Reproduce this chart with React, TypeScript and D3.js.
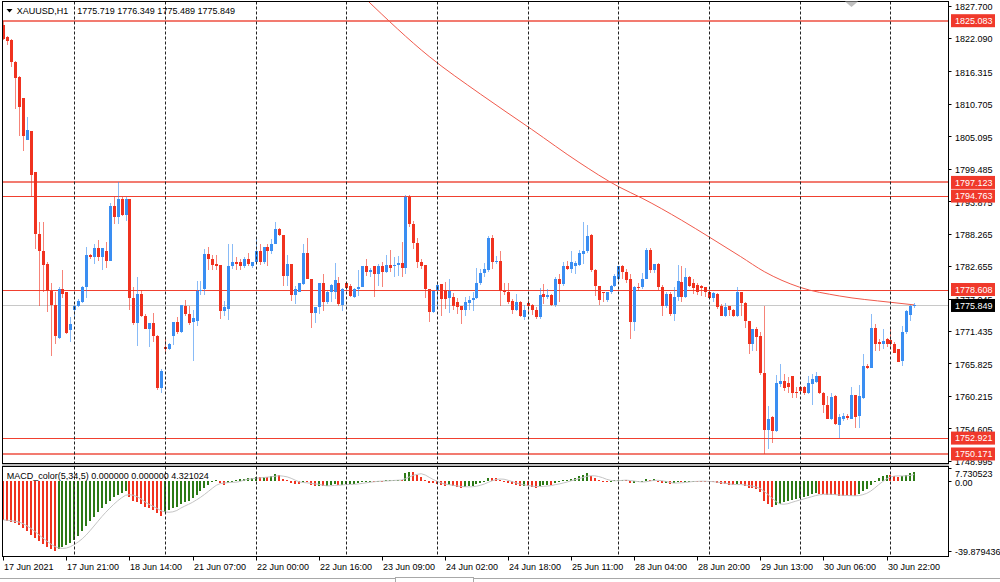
import React from 'react';
import * as d3 from 'd3';

// ---------- DATA ----------
const opens = [
  1824.4,1822.3,1821.7,1818.0,1815.3,1811.7,1804.4,1806.0,1798.9,1788.2,
  1785.2,1783.0,1778.4,1775.9,1770.3,1778.7,1778.1,1771.6,1775.1,1775.8,
  1776.5,1779.0,1784.5,1784.3,1785.7,1784.3,1785.2,1783.6,1793.1,1791.1,
  1794.3,1791.5,1794.3,1777.2,1772.8,1777.8,1774.1,1771.8,1772.9,1770.6,
  1761.5,1768.6,1768.3,1770.6,1773.0,1771.2,1775.8,1774.4,1773.0,1773.2,
  1778.3,1778.7,1784.8,1783.9,1783.0,1782.8,1774.9,1775.3,1782.6,1783.4,
  1783.3,1782.6,1783.9,1782.6,1783.3,1785.2,1783.4,1785.9,1785.2,1786.5,
  1789.0,1788.0,1780.9,1783.0,1777.7,1778.2,1779.6,1784.9,1780.5,1774.6,
  1775.6,1779.7,1776.5,1778.1,1778.2,1779.8,1775.9,1779.7,1779.3,1777.4,
  1778.7,1779.0,1782.6,1781.7,1782.6,1781.3,1782.6,1781.6,1782.9,1782.6,
  1782.9,1783.2,1782.4,1794.6,1789.9,1786.7,1783.3,1782.8,1778.7,1774.8,
  1778.6,1779.5,1778.6,1777.1,1777.4,1776.5,1775.8,1775.1,1776.3,1776.8,
  1777.1,1779.7,1781.4,1782.0,1787.6,1783.3,1783.5,1778.4,1778.2,1776.7,
  1775.1,1776.5,1773.8,1776.3,1775.9,1775.1,1773.8,1777.8,1777.4,1777.6,
  1775.9,1780.5,1779.5,1782.6,1782.2,1782.6,1782.9,1784.8,1785.3,1788.0,
  1782.0,1779.2,1778.2,1776.8,1778.1,1779.2,1780.4,1782.6,1781.7,1780.5,
  1773.0,1779.0,1779.0,1780.5,1785.5,1782.0,1783.0,1779.1,1775.7,1777.8,
  1774.4,1777.4,1779.9,1777.4,1780.7,1779.7,1779.4,1779.3,1779.1,1778.2,
  1777.2,1777.8,1775.7,1774.1,1775.7,1775.0,1774.1,1778.1,1776.3,1773.2,
  1769.2,1771.8,1770.6,1764.1,1754.3,1756.5,1754.2,1762.2,1762.8,1762.4,
  1763.7,1760.9,1761.8,1761.7,1760.8,1762.2,1762.6,1763.6,1760.8,1758.6,
  1756.3,1760.2,1755.2,1756.3,1756.8,1756.3,1760.3,1756.7,1759.9,1765.3,
  1765.1,1772.0,1769.5,1769.2,1770.1,1769.9,1769.2,1768.3,1766.3,1771.2,
  1774.2,1775.719,
];
const highs = [
  1825.0,1822.5,1821.9,1818.2,1815.5,1811.7,1808.4,1806.0,1798.9,1790.2,
  1790.3,1783.4,1779.8,1778.1,1779.1,1782.0,1778.1,1773.8,1775.9,1777.0,
  1779.3,1785.9,1784.8,1786.4,1787.1,1785.7,1786.8,1793.6,1794.6,1797.2,
  1794.6,1794.6,1794.3,1779.0,1780.7,1778.6,1774.4,1772.9,1774.5,1770.7,
  1764.8,1770.0,1769.3,1773.0,1773.8,1775.9,1776.8,1775.8,1775.1,1780.1,
  1780.0,1785.6,1785.9,1784.5,1784.5,1782.8,1776.7,1786.5,1786.5,1784.2,
  1783.9,1784.3,1785.0,1783.4,1787.5,1786.5,1785.9,1786.5,1787.3,1790.2,
  1789.2,1788.0,1784.6,1783.0,1779.3,1779.7,1786.5,1787.5,1780.5,1775.6,
  1779.8,1781.3,1778.4,1779.6,1783.2,1780.7,1778.8,1779.7,1779.6,1778.9,
  1782.0,1782.6,1783.9,1782.4,1782.6,1783.0,1783.3,1784.5,1785.5,1784.2,
  1784.4,1786.9,1794.9,1794.9,1790.5,1787.5,1783.9,1782.8,1778.7,1778.4,
  1779.5,1779.5,1779.9,1780.4,1778.0,1777.2,1775.8,1777.4,1777.5,1778.1,
  1782.4,1782.2,1783.2,1787.8,1788.0,1784.4,1785.3,1779.7,1779.8,1777.0,
  1777.8,1776.7,1775.9,1777.2,1776.1,1775.5,1778.8,1779.5,1778.7,1777.8,
  1780.7,1781.3,1783.3,1783.6,1785.2,1783.6,1785.5,1790.3,1789.7,1788.2,
  1782.1,1779.2,1778.2,1778.2,1779.4,1781.3,1782.6,1782.9,1782.2,1781.3,
  1779.2,1779.8,1781.5,1785.7,1785.7,1783.0,1783.2,1779.4,1778.2,1778.1,
  1779.1,1782.8,1782.6,1782.3,1781.0,1780.4,1779.7,1779.4,1779.1,1778.4,
  1778.1,1778.0,1776.1,1776.3,1775.8,1775.2,1779.0,1778.1,1776.5,1773.2,
  1771.8,1772.2,1771.2,1775.8,1758.5,1756.7,1763.8,1765.7,1764.0,1763.4,
  1763.7,1761.7,1762.0,1762.0,1763.7,1764.0,1764.4,1763.7,1760.9,1760.2,
  1760.8,1760.3,1757.0,1757.2,1757.1,1761.7,1760.4,1762.1,1767.4,1765.8,
  1774.4,1772.6,1770.1,1771.8,1770.3,1771.8,1769.5,1768.3,1772.3,1775.1,
  1776.0,1776.349,
];
const lows = [
  1821.7,1820.9,1817.1,1809.9,1805.2,1802.6,1804.4,1794.6,1785.6,1775.8,
  1778.1,1774.8,1767.1,1769.2,1770.0,1777.2,1770.9,1769.5,1773.5,1775.5,
  1776.3,1777.1,1783.9,1783.0,1783.6,1782.0,1782.4,1783.6,1789.9,1789.9,
  1791.4,1790.5,1775.1,1772.4,1768.9,1773.8,1771.8,1768.6,1769.5,1761.3,
  1760.8,1767.4,1768.2,1769.0,1770.9,1771.1,1774.1,1772.5,1766.3,1772.3,
  1777.6,1777.6,1781.9,1781.9,1781.9,1773.5,1774.1,1773.4,1782.1,1781.9,
  1781.9,1782.4,1782.7,1782.4,1783.3,1782.9,1783.0,1782.7,1784.8,1786.5,
  1787.8,1779.3,1779.3,1776.7,1776.1,1778.1,1779.4,1780.4,1772.0,1772.9,
  1774.4,1774.9,1776.1,1776.4,1776.9,1775.8,1774.9,1778.8,1777.4,1777.1,
  1777.5,1779.0,1781.0,1780.7,1777.4,1779.3,1779.0,1781.5,1781.6,1780.7,
  1780.9,1780.7,1781.3,1789.5,1785.6,1782.3,1782.2,1777.2,1773.0,1774.6,
  1775.5,1774.1,1775.2,1774.5,1775.1,1774.4,1772.6,1774.1,1775.1,1774.9,
  1777.0,1779.4,1780.7,1781.7,1782.2,1783.0,1775.7,1777.6,1776.1,1774.4,
  1774.9,1773.8,1773.4,1774.6,1774.2,1773.5,1773.5,1776.1,1776.9,1775.8,
  1775.5,1776.5,1779.2,1781.9,1781.5,1781.3,1782.6,1783.0,1784.9,1781.6,
  1777.5,1775.9,1776.5,1776.5,1777.8,1779.0,1780.1,1780.4,1779.8,1770.1,
  1771.5,1778.4,1778.7,1780.4,1781.5,1781.5,1778.5,1774.0,1775.4,1774.1,
  1773.2,1776.7,1776.5,1777.2,1779.0,1777.8,1777.6,1777.5,1777.4,1777.2,
  1776.5,1775.2,1774.0,1773.8,1774.1,1773.8,1773.8,1774.0,1772.0,1767.4,
  1768.0,1768.0,1763.8,1750.1,1751.0,1752.1,1754.0,1761.7,1761.1,1760.8,
  1759.8,1759.9,1760.6,1760.3,1760.5,1758.6,1762.4,1760.5,1757.3,1756.2,
  1756.0,1755.2,1753.0,1755.9,1756.1,1756.2,1754.7,1754.6,1759.7,1764.9,
  1765.0,1768.0,1768.0,1768.3,1768.6,1768.3,1767.6,1766.0,1765.3,1771.0,
  1773.2,1775.489,
];
const closes = [
  1821.9,1821.5,1817.9,1815.1,1810.2,1805.2,1806.1,1798.4,1788.2,1785.2,
  1782.8,1778.4,1775.9,1770.6,1778.7,1777.8,1771.1,1772.6,1775.8,1776.7,
  1779.0,1784.5,1784.2,1785.7,1784.3,1785.7,1783.6,1793.1,1791.1,1794.3,
  1791.5,1794.3,1777.2,1772.8,1777.8,1774.1,1771.8,1772.9,1770.6,1761.5,
  1764.5,1768.4,1769.2,1773.0,1771.2,1775.9,1774.4,1772.8,1773.6,1778.4,
  1778.6,1784.8,1783.9,1782.8,1782.6,1774.9,1775.5,1782.6,1783.3,1783.0,
  1782.7,1783.9,1783.0,1783.3,1785.2,1783.4,1785.9,1785.2,1786.5,1789.0,
  1788.0,1780.9,1783.0,1777.7,1778.7,1779.7,1784.9,1780.5,1774.5,1775.6,
  1779.8,1776.5,1778.1,1779.4,1780.3,1776.1,1778.7,1778.8,1777.5,1778.7,
  1779.1,1782.6,1781.6,1782.0,1781.3,1782.7,1781.6,1782.9,1782.4,1782.9,
  1783.2,1782.4,1794.6,1789.9,1786.7,1783.3,1782.6,1778.7,1774.8,1778.4,
  1779.4,1777.0,1777.0,1778.4,1775.7,1775.5,1775.1,1776.4,1776.8,1777.2,
  1779.7,1781.5,1782.2,1787.6,1783.3,1783.5,1778.4,1778.1,1776.5,1775.1,
  1776.5,1774.0,1775.1,1775.8,1775.1,1773.8,1777.6,1777.4,1777.6,1775.9,
  1780.5,1779.5,1782.6,1782.2,1783.3,1783.2,1784.9,1785.3,1787.9,1781.9,
  1779.2,1776.8,1778.0,1778.1,1779.3,1781.0,1782.6,1781.7,1780.3,1773.0,
  1779.0,1778.8,1780.5,1785.5,1782.0,1783.0,1779.1,1775.7,1777.8,1774.4,
  1777.4,1780.1,1777.4,1780.7,1779.3,1778.8,1778.1,1778.8,1778.1,1777.2,
  1778.0,1775.5,1774.1,1775.5,1775.0,1774.1,1778.1,1776.3,1773.2,1769.2,
  1771.8,1770.4,1764.1,1754.3,1756.3,1754.2,1762.4,1762.8,1761.5,1761.7,
  1760.8,1760.7,1761.1,1760.8,1762.4,1763.2,1763.6,1760.8,1758.6,1756.3,
  1760.0,1755.3,1756.6,1756.8,1756.4,1760.3,1756.6,1760.2,1765.4,1765.1,
  1772.0,1769.2,1769.2,1769.7,1769.2,1769.2,1767.7,1766.1,1771.2,1774.9,
  1775.8,1775.849,
];
const macdValues = [
  -22.2,-22.6,-23.2,-24.0,-25.1,-26.8,-28.8,-30.7,-32.6,-34.5,
  -36.0,-37.6,-39.0,-39.88,-38.9,-37.6,-36.4,-35.2,-33.7,-31.4,
  -28.8,-25.5,-22.6,-20.3,-17.8,-15.3,-13.0,-11.1,-9.2,-7.7,
  -6.5,-5.8,-9.2,-11.1,-12.1,-13.0,-14.6,-15.5,-16.5,-18.4,
  -19.8,-17.8,-16.5,-15.3,-14.6,-13.0,-12.1,-11.1,-9.6,-7.7,
  -5.8,-3.9,-2.2,-0.6,0.8,-0.9,-2.2,-1.0,0.4,0.9,
  1.2,1.5,1.6,1.9,2.4,2.2,2.7,2.6,3.1,3.9,
  3.6,1.5,0.5,-0.9,-1.3,-1.5,-0.3,-0.5,-2.3,-3.0,
  -2.5,-2.8,-2.6,-2.2,-1.7,-2.1,-2.0,-1.7,-1.6,-1.4,
  -1.1,-0.3,-0.1,0.1,-0.2,0.3,0.2,0.5,0.6,0.7,
  0.9,0.8,4.6,5.6,5.1,3.8,2.6,1.0,-1.0,-1.2,
  -1.4,-2.0,-2.6,-2.4,-3.0,-3.3,-3.6,-3.3,-3.0,-2.6,
  -1.8,-0.8,0.2,2.0,1.9,1.8,0.5,-0.3,-1.0,-1.8,
  -2.0,-2.7,-2.6,-2.9,-3.3,-3.7,-2.6,-2.2,-1.9,-2.1,
  -0.9,-0.6,0.5,0.9,1.5,2.0,2.8,3.4,4.5,3.1,
  1.9,0.6,0.2,-0.1,0.1,0.5,1.0,1.0,0.7,-1.2,
  -0.8,-0.6,-0.2,1.2,1.0,1.1,-0.4,-1.2,-1.0,-1.4,
  -1.1,-0.3,-0.6,0.0,0.1,0.1,0.0,0.0,-0.1,-0.5,
  -0.6,-1.1,-1.7,-1.8,-2.0,-2.4,-1.6,-1.8,-2.6,-3.9,
  -4.0,-4.5,-6.0,-11.1,-13.0,-14.6,-13.6,-12.8,-12.0,-11.4,
  -10.8,-10.2,-9.6,-8.9,-8.2,-7.6,-7.0,-7.2,-7.5,-7.8,
  -7.9,-8.1,-8.2,-8.3,-8.35,-8.4,-8.45,-7.6,-5.8,-4.4,
  -2.0,0.2,2.0,3.0,3.6,3.4,3.0,2.4,3.0,3.8,
  4.5,5.6,
];
const maBars = [92, 108, 121, 134, 146, 156, 162, 172, 179, 187, 193, 202, 212, 225, 231];
const maValues = [1828.8, 1818.9, 1812.4, 1806.3, 1800.6, 1796.4, 1794.4, 1790.6, 1787.7, 1784.3, 1781.7, 1779.0, 1777.5, 1776.4, 1775.95];

const priceTicks = [1827.700,1822.090,1816.315,1810.705,1805.095,1799.485,1793.875,1788.265,1782.655,1777.045,1771.435,1765.825,1760.215,1754.605,1748.995];
const levelValues = [1825.083, 1797.123, 1794.763, 1778.608, 1752.921, 1750.171];
const levelSoft = [true, true, false, false, false, true];
const lastPrice = 1775.849;
const separatorBars = [18, 41, 64, 87, 110, 133, 156, 179, 202, 225];
const timeLabelBars = [0,16,32,48,64,80,96,112,128,144,160,176,192,208,224];
const timeLabels = ['17 Jun 2021','17 Jun 21:00','18 Jun 14:00','21 Jun 07:00','22 Jun 00:00','22 Jun 16:00','23 Jun 09:00','24 Jun 02:00','24 Jun 18:00','25 Jun 11:00','28 Jun 04:00','28 Jun 20:00','29 Jun 13:00','30 Jun 06:00','30 Jun 22:00'];
const macdTicks = [7.730523, 0, -39.879436];
const macdTickLabels = ['7.730523', '0.00', '-39.879436'];
const titleText = 'XAUUSD,H1';
const titleValues = '1775.719 1776.349 1775.489 1775.849';
const macdTitle = 'MACD_color(5,34,5) 0.000000 0.000000 4.321024';

// ---------- STYLE ----------
const BLUE = '#3a8ef2';
const RED = '#f0321f';
const GREEN = '#2c7a16';
const FONT = '"Liberation Sans", Arial, sans-serif';

const PL = 2.5, PR = 948.5, MT = 1.5, MB = 463.5, ST = 466.5, SB = 556.5;

export default function App() {
  const n = closes.length;
  const x = d3.scaleLinear().domain([0, n - 1]).range([3.3, 914.1]);
  const y = d3.scaleLinear().domain([1748.995, 1827.7]).range([460.8, 5.56]);
  const ym = d3.scaleLinear().domain([-39.879436, 7.730523]).range([550.7, 467.8]);
  const px = (i: number) => Math.round(x(i));

  const maLine = d3.line<number>()
    .x((_, k) => x(maBars[k]))
    .y((v) => y(v))
    .curve(d3.curveMonotoneX)(maValues) || '';

  const signal = macdValues.map((_, i) => d3.mean(macdValues.slice(Math.max(0, i - 4), i + 1)) as number);
  const signalPath = d3.line<number>().x((_, i) => x(i)).y((v) => ym(v)).curve(d3.curveLinear)(signal) || '';

  const macdColors: string[] = [];
  macdValues.forEach((v, i) => {
    if (i === 0) macdColors.push(RED);
    else if (v > macdValues[i - 1]) macdColors.push(GREEN);
    else if (v < macdValues[i - 1]) macdColors.push(RED);
    else macdColors.push(macdColors[i - 1]);
  });

  const z = ym(0);

  return (
    <svg width={1000} height={582} style={{ position: 'absolute', left: 0, top: 0, background: '#fff' }} fontFamily={FONT}>
      <defs>
        <clipPath id="mainClip"><rect x={PL} y={MT} width={PR - PL} height={MB - MT} /></clipPath>
        <clipPath id="subClip"><rect x={PL} y={ST} width={PR - PL} height={SB - ST} /></clipPath>
      </defs>
      <rect x={0} y={0} width={1000} height={582} fill="#fff" />

      {/* main panel content */}
      <g clipPath="url(#mainClip)">
        {/* current price line */}
        <line x1={PL} x2={PR} y1={Math.round(y(lastPrice)) + 0.5} y2={Math.round(y(lastPrice)) + 0.5} stroke="#c8c8c8" strokeWidth={1} />
        {/* level lines */}
        {levelValues.map((v, k) => (
          <line key={k} x1={PL} x2={PR}
            y1={levelSoft[k] ? Math.round(y(v)) : Math.round(y(v)) + 0.5}
            y2={levelSoft[k] ? Math.round(y(v)) : Math.round(y(v)) + 0.5}
            stroke={levelSoft[k] ? '#f27b70' : '#f0402f'} strokeWidth={levelSoft[k] ? 2 : 1} />
        ))}
        {/* moving average */}
        <path d={maLine} fill="none" stroke="#f05a4c" strokeWidth={1} />
        {/* candles */}
        {opens.map((o, i) => {
          const c = closes[i];
          const up = c >= o;
          const col = up ? BLUE : RED;
          const cx = px(i);
          const yt = y(Math.max(o, c));
          const yb = y(Math.min(o, c));
          return (
            <g key={i} shapeRendering="crispEdges">
              <rect x={cx} y={y(highs[i])} width={1} height={Math.max(1, y(lows[i]) - y(highs[i]))} fill={col} fillOpacity={0.6} />
              <rect x={cx - 1} y={Math.round(yt)} width={3} height={Math.max(1, Math.round(yb) - Math.round(yt))} fill={col} />
            </g>
          );
        })}
      </g>

      {/* MACD panel content */}
      <g clipPath="url(#subClip)">
        {macdValues.map((v, i) => {
          const yv = ym(v);
          const top = Math.min(z, yv);
          const h = Math.max(1, Math.abs(yv - z));
          return <rect key={i} x={px(i) - 1} y={top} width={2} height={h} fill={macdColors[i]} shapeRendering="crispEdges" />;
        })}
        <path d={signalPath} fill="none" stroke="#c4c4c4" strokeWidth={1} />
      </g>

      {/* separators */}
      {separatorBars.map((b) => (
        <line key={b} x1={px(b) + 0.5} x2={px(b) + 0.5} y1={MT} y2={SB} stroke="#222" strokeWidth={1} strokeDasharray="3,2" />
      ))}

      {/* frames */}
      <rect x={PL} y={MT} width={PR - PL} height={MB - MT} fill="none" stroke="#000" strokeWidth={1} />
      <rect x={PL - 0.5} y={MB + 0.5} width={PR - PL + 1} height={ST - MB - 1} fill="#bdbdbd" />
      <rect x={PL} y={ST} width={PR - PL} height={SB - ST} fill="none" stroke="#000" strokeWidth={1} />

      {/* title */}
      <path d="M6.5,9 L12.5,9 L9.5,12.5 Z" fill="#000" />
      <text x={16.7} y={13.7} fontSize={9} fill="#000">{titleText}</text>
      <text x={77.3} y={13.7} fontSize={9} fill="#000">{titleValues}</text>
      <path d="M845,1.5 L858,1.5 L851.5,7 Z" fill="#c0c0c0" />
      <text x={6.7} y={479} fontSize={9} fill="#000">{macdTitle}</text>

      {/* price axis */}
      {priceTicks.map((t) => (
        <g key={t}>
          <line x1={PR} x2={PR + 3} y1={Math.round(y(t)) + 0.5} y2={Math.round(y(t)) + 0.5} stroke="#000" />
          <text x={955} y={y(t) + 4.3} fontSize={9} fill="#000">{t.toFixed(3)}</text>
        </g>
      ))}
      {levelValues.map((v, k) => (
        <g key={k}>
          <rect x={951} y={y(v) - 6.5} width={44} height={13} fill="#f0392b" />
          <text x={955} y={y(v) + 3.4} fontSize={9} fill="#fff">{v.toFixed(3)}</text>
        </g>
      ))}
      <rect x={951} y={y(lastPrice) - 6.5} width={44} height={13} fill="#000" />
      <text x={955} y={y(lastPrice) + 3.4} fontSize={9} fill="#fff">{lastPrice.toFixed(3)}</text>

      {/* MACD axis */}
      {macdTicks.map((t, k) => {
        const cy = Math.max(ym(t) + 1, ST + 7.5);
        return (
          <g key={k}>
            <line x1={PR} x2={PR + 3} y1={Math.round(ym(t)) + 0.5} y2={Math.round(ym(t)) + 0.5} stroke="#000" />
            <text x={955} y={cy + 3.3} fontSize={9} fill="#000">{macdTickLabels[k]}</text>
          </g>
        );
      })}

      {/* time axis */}
      {timeLabelBars.map((b, k) => (
        <g key={b}>
          <line x1={px(b) + 0.5} x2={px(b) + 0.5} y1={SB} y2={SB + 4} stroke="#000" />
          <text x={px(b) + 1} y={570} fontSize={9} fill="#000">{timeLabels[k]}</text>
        </g>
      ))}

      {/* bottom tab strip */}
      <line x1={0} x2={1000} y1={578.5} y2={578.5} stroke="#a8a8a8" strokeWidth={1} />
      <rect x={395.5} y={577.5} width={78} height={6} fill="#fff" stroke="#a8a8a8" />
    </svg>
  );
}
